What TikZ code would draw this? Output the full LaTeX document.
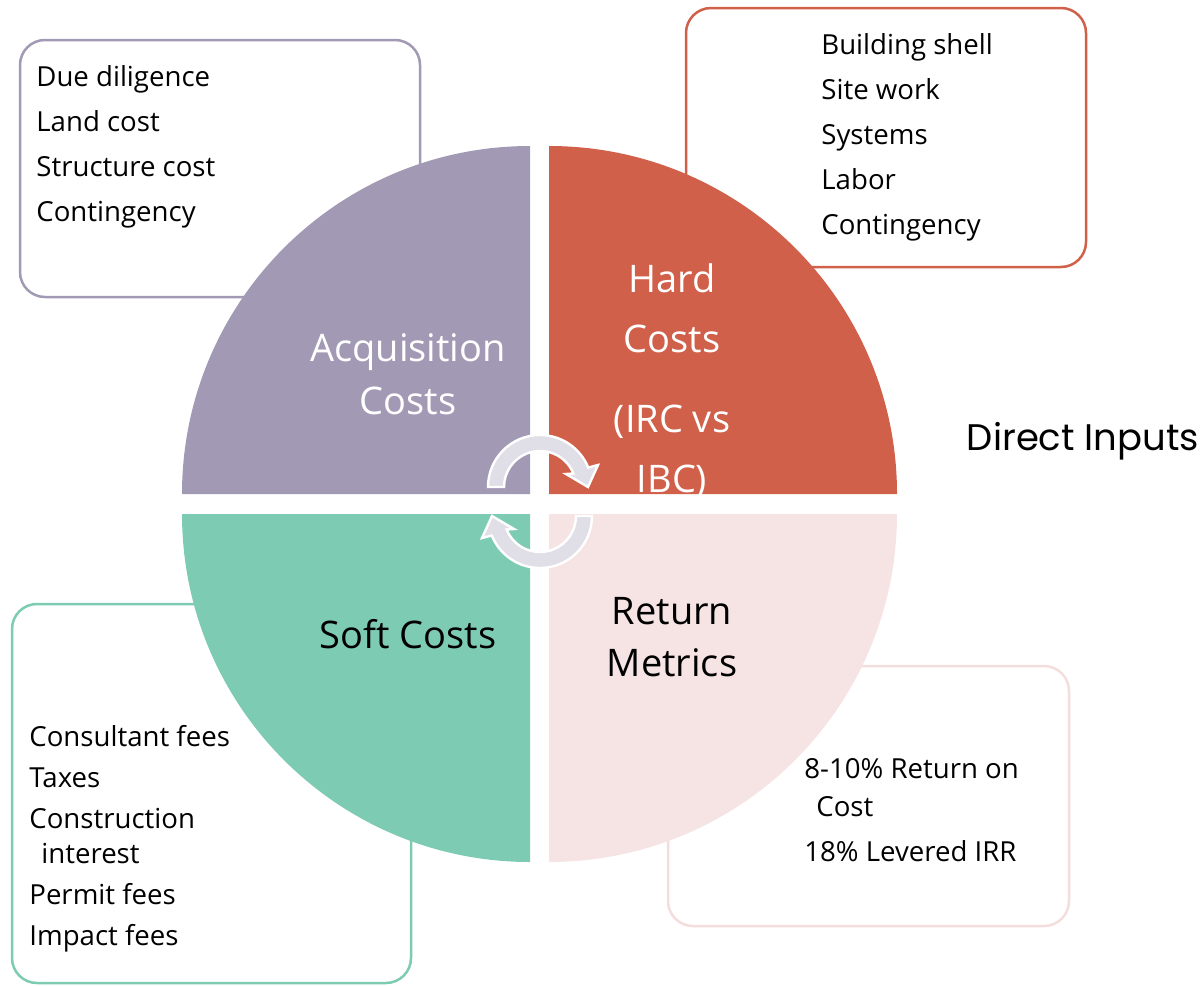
\documentclass[tikz,border=0pt]{standalone}
\usepackage{fontspec}
\setmainfont{Open Sans}
\newfontfamily\gothicfont{Poppins}
\usetikzlibrary{arrows,shapes,positioning,calc}
\definecolor{acqpurple}{RGB}{162,154,181}
\definecolor{hardred}{RGB}{208,96,74}
\definecolor{softgreen}{RGB}{126,203,179}
\definecolor{returnpink}{RGB}{246,228,228}
\definecolor{returnline}{RGB}{243,221,221}
\definecolor{arrowgray}{RGB}{224,222,230}

\begin{document}
\begin{tikzpicture}[x=0.5pt, y=-0.5pt,
    listbox/.style={line width=1.25pt, rounded corners=12.5pt, fill=white},
    listtext/.style={anchor=north west, inner sep=0pt, align=left, font=\fontsize{13.8}{22.5}\selectfont},
    quadtext/.style={align=center, inner sep=0pt},
    turnarrow/.style={fill=arrowgray, draw=white, line width=1.2pt, line join=miter}]
    % Page frame
    \useasboundingbox (0,0) rectangle (1204,985);

    % Text boxes (behind the circle)
    \draw[listbox, draw=acqpurple] (20,40) rectangle (420,297);
    \draw[listbox, draw=hardred] (686,8) rectangle (1086,267);
    \draw[listbox, draw=softgreen] (12,604) rectangle (411,983);
    \draw[listbox, draw=returnline] (668,666) rectangle (1069,926);

    % Four quadrants
    \fill[acqpurple] (530,494) -- (182,494) arc[start angle=180, end angle=270, radius=348] -- cycle;
    \fill[hardred] (549,494) -- (549,146) arc[start angle=270, end angle=360, radius=348] -- cycle;
    \fill[softgreen] (530,514) -- (530,862) arc[start angle=90, end angle=180, radius=348] -- cycle;
    \fill[returnpink] (549,514) -- (897,514) arc[start angle=0, end angle=90, radius=348] -- cycle;

    % Circular arrows in the middle
    \draw[turnarrow] (488,487) arc[start angle=180, end angle=338, radius=52]
        -- (598,465) -- (588,487) -- (566,474) -- (573.4,473.5)
        arc[start angle=338, end angle=180, radius=36] -- cycle;
    \draw[turnarrow] (592,516) arc[start angle=0, end angle=158, radius=52]
        -- (482,538) -- (492,516) -- (514,529) -- (506.6,529.5)
        arc[start angle=158, end angle=0, radius=36] -- cycle;

    % Quadrant labels
    \node[quadtext, white, font=\fontsize{19}{26.5}\selectfont] (acqLabel) at (408,374) {Acquisition\\Costs};
    \node[quadtext, white, font=\fontsize{19}{30}\selectfont] (hardLabel) at (672,381) {Hard\\Costs\\[10pt](IRC vs\\IBC)};
    \node[quadtext, black, font=\fontsize{19}{26}\selectfont] (softLabel) at (408,634) {Soft Costs};
    \node[quadtext, black, font=\fontsize{19}{26}\selectfont] (returnLabel) at (672,637) {Return\\Metrics};

    % Lists
    \node[listtext] (acqList) at (36,65) {Due diligence\\Land cost\\Structure cost\\Contingency};
    \node[listtext] (hardList) at (821,33) {Building shell\\Site work\\Systems\\Labor\\Contingency};
    \node[listtext, font=\fontsize{13.8}{17.5}\selectfont] (softList) at (29,725)
        {Consultant fees\\[3pt]Taxes\\[3pt]Construction\\\hspace*{6pt}interest\\[3pt]Permit fees\\[3pt]Impact fees};
    \node[listtext, font=\fontsize{13.8}{19}\selectfont] (returnList) at (804,758)
        {8-10\% Return on\\\hspace*{6pt}Cost\\[3.5pt]18\% Levered IRR};

    % Side title
    \node[quadtext, font=\gothicfont\fontsize{18.5}{24}\selectfont] (directInputs) at (1083,441) {Direct Inputs};
\end{tikzpicture}
\end{document}
